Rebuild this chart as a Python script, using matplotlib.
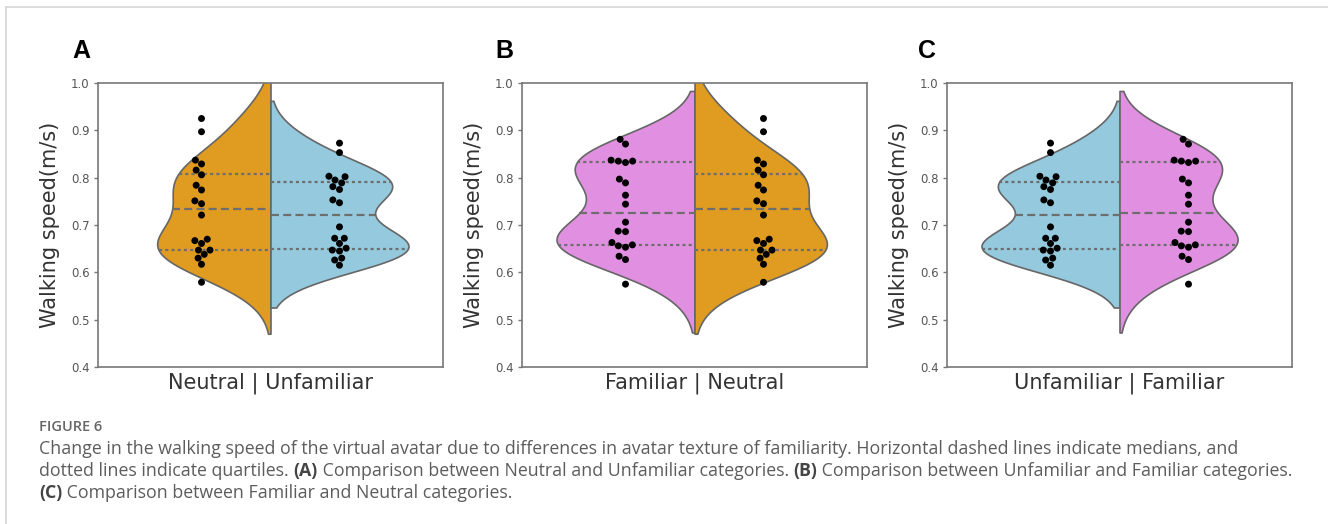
import numpy as np
import pandas as pd
import matplotlib
matplotlib.use("Agg")
import matplotlib.pyplot as plt
import seaborn as sns
from matplotlib.lines import Line2D

# ---------------- data (walking speed, m/s) ----------------
neutral = [0.925, 0.897, 0.837, 0.829, 0.816, 0.806, 0.784, 0.774, 0.751, 0.745,
           0.721, 0.670, 0.667, 0.661, 0.647, 0.647, 0.638, 0.630, 0.617, 0.579]
unfamiliar = [0.873, 0.853, 0.803, 0.802, 0.795, 0.789, 0.781, 0.775, 0.753, 0.747,
              0.696, 0.672, 0.672, 0.661, 0.647, 0.645, 0.651, 0.630, 0.626, 0.615]
familiar = [0.881, 0.871, 0.837, 0.835, 0.835, 0.832, 0.797, 0.789, 0.763, 0.744,
            0.706, 0.687, 0.686, 0.663, 0.658, 0.656, 0.653, 0.634, 0.627, 0.575]

groups = {"Neutral": neutral, "Unfamiliar": unfamiliar, "Familiar": familiar}
panel_letters = ["A", "B", "C"]
panel_pairs = [("Neutral", "Unfamiliar"), ("Familiar", "Neutral"), ("Unfamiliar", "Familiar")]
palette = {"Neutral": "orange", "Unfamiliar": "skyblue", "Familiar": "violet"}
yticks = [0.4, 0.5, 0.6, 0.7, 0.8, 0.9, 1.0]
ylabel = "Walking speed(m/s)"

caption_title = "FIGURE 6"
caption_lines = [
    [("Change in the walking speed of the virtual avatar due to differences in avatar texture of familiarity. Horizontal dashed lines indicate medians, and", False)],
    [("dotted lines indicate quartiles. ", False), ("(A)", True),
     (" Comparison between Neutral and Unfamiliar categories. ", False), ("(B)", True),
     (" Comparison between Unfamiliar and Familiar categories.", False)],
    [("(C)", True), (" Comparison between Familiar and Neutral categories.", False)],
]

# ---------------- figure ----------------
W, H = 1328, 524
fig = plt.figure(figsize=(W / 100, H / 100), dpi=100)
fig.patch.set_facecolor("white")

def fx(px):
    return px / W

def fy(py):
    return 1 - py / H

ax_lefts = [98, 522, 947]
letter_x = [72, 495, 918]
ax_w, ax_top, ax_bot = 345, 83, 367
inner_color = "#6e6e6e"

for i, (letter, (left, right)) in enumerate(zip(panel_letters, panel_pairs)):
    ax = fig.add_axes([fx(ax_lefts[i]), fy(ax_bot), ax_w / W, (ax_bot - ax_top) / H])
    cond = f"{left} | {right}"
    lv, rv = groups[left], groups[right]
    df = pd.DataFrame({
        "cond": [cond] * (len(lv) + len(rv)),
        "group": [left] * len(lv) + [right] * len(rv),
        "speed": lv + rv,
    })
    sns.violinplot(data=df, x="cond", y="speed", hue="group", hue_order=[left, right],
                   split=True, inner="quart", palette=palette, linecolor="#666666",
                   linewidth=1.2, common_norm=True, ax=ax, legend=False)
    # style the inner quartile / median lines
    for k, ln in enumerate(ax.lines):
        ln.set_color(inner_color)
        ln.set_linewidth(1.6)
        if k % 3 == 1:
            ln.set_linestyle((0, (3.6, 1.9)))
        else:
            ln.set_linestyle((0, (1.4, 1.4)))
    sns.swarmplot(data=df, x="cond", y="speed", hue="group", hue_order=[left, right],
                  dodge=True, palette={left: "black", right: "black"}, size=5,
                  ax=ax, legend=False)
    ax.set_xlim(-0.5, 0.5)
    ax.set_ylim(0.4, 1.0)
    ax.set_yticks(yticks)
    ax.set_yticklabels([f"{t:.1f}" for t in yticks])
    ax.set_xlabel("")
    ax.set_ylabel(ylabel, fontsize=15, color="#333333", labelpad=8)
    ax.tick_params(axis="y", labelsize=8.5, labelcolor="#555555", color="#777777",
                   length=3, width=1, pad=3)
    ax.tick_params(axis="x", labelsize=15, labelcolor="#333333", length=0, pad=4)
    for sp in ax.spines.values():
        sp.set_color("#777777")
        sp.set_linewidth(1.2)
    fig.text(fx(letter_x[i]), fy(51), letter, fontsize=18, fontweight="bold",
             family="Liberation Sans", ha="left", va="center", color="black")

# ---------------- page frame lines ----------------
fig.add_artist(Line2D([fx(6), 1], [fy(7), fy(7)], color="#d6d6d6", lw=1.2,
                      transform=fig.transFigure))
fig.add_artist(Line2D([fx(6), fx(6)], [fy(7), 0], color="#d6d6d6", lw=1.2,
                      transform=fig.transFigure))

# ---------------- caption ----------------
cap_font = "Open Sans"
cap_size = 12.8
cap_color = "#5c5c5c"
fig.text(fx(39), fy(427), caption_title, fontsize=10.5, fontweight="semibold",
         family=cap_font, color="#666666", ha="left", va="center")

fig.canvas.draw()
renderer = fig.canvas.get_renderer()
line_y = [449, 471, 493]
for ly, segs in zip(line_y, caption_lines):
    x = fx(39)
    for txt, bold in segs:
        t = fig.text(x, fy(ly), txt, fontsize=cap_size, family=cap_font,
                     fontweight="bold" if bold else "normal",
                     color="#444444" if bold else cap_color, ha="left", va="center")
        bb = t.get_window_extent(renderer=renderer)
        x += bb.width / W

fig.savefig("out.png", dpi=100, facecolor="white")
